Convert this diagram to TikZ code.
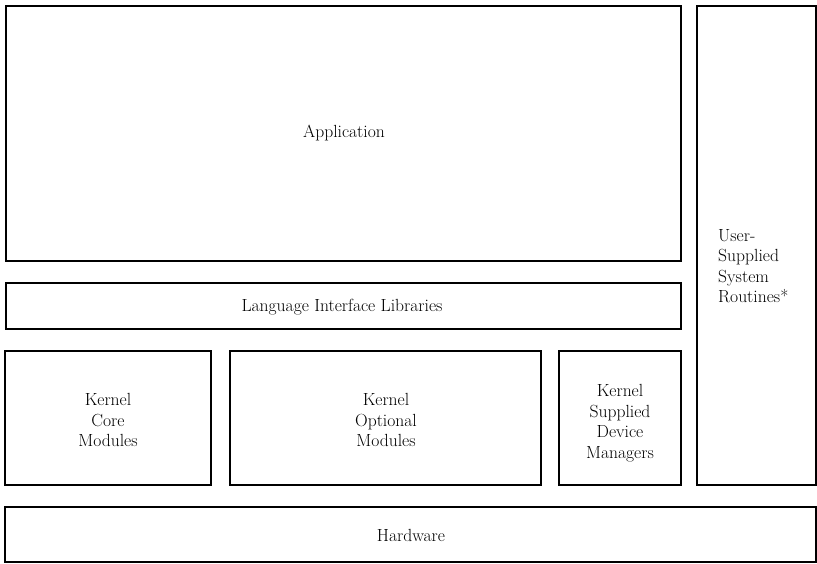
\documentclass[tikz,border=0pt]{standalone}
\usepackage{tikz}
\tikzset{
        layer/.style={draw, line width=1.6pt, inner sep=0pt},
        txt/.style={align=center, inner sep=0pt,
                    font=\fontsize{15}{17.5}\selectfont},
        txtl/.style={txt, align=left, anchor=west},
 }

\begin{document}
\begin{tikzpicture}[x=0.03cm, y=-0.03cm]
    \useasboundingbox (0,0) rectangle (817,564);

    % boxes
    \node[layer, minimum width=20.25cm, minimum height=7.65cm] (app) at (343.5,133.5) {};
    \node[layer, minimum width=3.57cm, minimum height=14.37cm] (user) at (756.5,245.5) {};
    \node[layer, minimum width=20.25cm, minimum height=1.38cm] (lang) at (343.5,306) {};
    \node[layer, minimum width=6.18cm, minimum height=4.02cm] (core) at (108,418) {};
    \node[layer, minimum width=9.33cm, minimum height=4.02cm] (opt) at (385.5,418) {};
    \node[layer, minimum width=3.66cm, minimum height=4.02cm] (dev) at (620,418) {};
    \node[layer, minimum width=24.33cm, minimum height=1.65cm] (hw) at (410.5,534.5) {};

    % labels
    \node[txt] (applbl) at (344,133) {Application};
    \node[txtl] (userlbl) at (718,266) {User-\\Supplied\\System\\Routines*};
    \node[txt] (langlbl) at (342,307) {Language Interface Libraries};
    \node[txt] (corelbl) at (108,420) {Kernel\\Core\\Modules};
    \node[txt] (optlbl) at (386,420) {Kernel\\Optional\\Modules};
    \node[txt] (devlbl) at (620,423) {Kernel\\Supplied\\Device\\Managers};
    \node[txt] (hwlbl) at (411,535) {Hardware};
\end{tikzpicture}
\end{document}
